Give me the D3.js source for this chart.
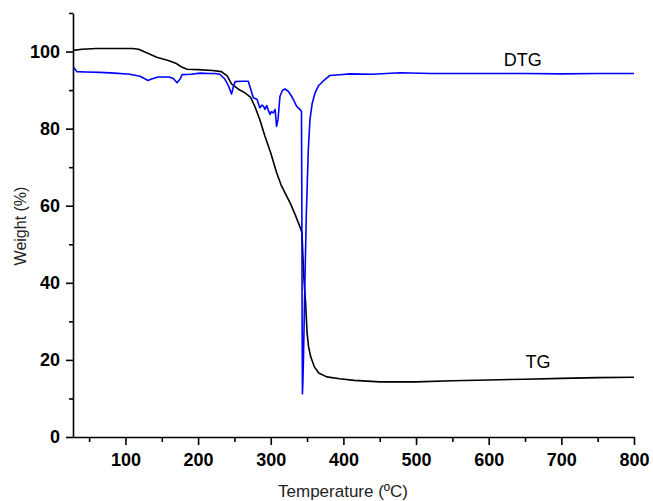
<!DOCTYPE html>
<html>
<head>
<meta charset="utf-8">
<script src="https://cdn.jsdelivr.net/npm/d3@7"></script>
<style>
  body { margin: 0; background: #fff; }
  svg { display: block; font-family: "Liberation Sans", Arial, sans-serif; }
  .tickLabels text { font-size: 18px; font-weight: bold; fill: #000; }
  .axisTitle { font-size: 17px; fill: #222; }
</style>
</head>
<body>
<div id="chart"></div>
<script>
var svgWidth = 653;
var svgHeight = 501;

var margin = { top: 13, right: 19, bottom: 64, left: 73 };
var width = svgWidth - margin.left - margin.right;
var height = svgHeight - margin.top - margin.bottom;

// TG curve (temperature, weight %)
var tgTemp = [28, 40, 60, 90, 110, 118, 130, 143, 160, 170, 178, 185, 200, 220, 232, 240, 246, 255, 265, 272,
  278, 285, 292, 300, 308, 314, 320, 327, 334, 340, 343, 344.5, 346, 348, 350, 352, 355, 360, 366, 377,
  395, 415, 450, 500, 550, 600, 650, 700, 750, 800];
var tgWeight = [100.3, 100.6, 100.8, 100.8, 100.8, 100.6, 99.6, 98.5, 97.6, 96.9, 95.9, 95.4, 95.3, 95.1, 94.8, 93.7, 91.6, 90.3, 89.2, 88.2,
  85.8, 82.3, 78.0, 73.7, 68.6, 65.5, 63.2, 60.6, 57.5, 54.6, 53.0, 46, 40, 34.7, 27, 23.5, 20.8, 18.2, 16.6, 15.6,
  15.1, 14.7, 14.3, 14.3, 14.6, 14.8, 15.0, 15.2, 15.4, 15.5];

// DTG curve (temperature, plotted value)
var dtgTemp = [28, 30, 33, 45, 65, 85, 106, 120, 128, 131, 136, 145, 160, 166, 171, 175, 178, 190, 203, 215,
  223, 230, 237, 242, 246, 249, 251, 260, 269, 272, 276, 281, 285, 288, 290, 292, 294.5, 297, 299, 301,
  303.5, 306, 308, 310, 312.7, 316, 319.6, 324, 328, 331, 335.7, 340, 342.3, 342.8, 343.2, 343.6, 344.2, 345, 347, 349,
  351.7, 354, 357, 361, 366, 372, 381.5, 395, 409, 440, 478, 520, 560, 600, 650, 700, 750, 800];
var dtgValue = [95.9, 95.6, 94.8, 94.7, 94.6, 94.4, 94.1, 93.6, 92.8, 92.5, 92.9, 93.4, 93.4, 93.0, 91.9, 92.8, 94.0, 94.1, 94.4, 94.3,
  94.3, 94.1, 92.8, 91.0, 89.0, 91.2, 92.2, 92.3, 92.3, 90.5, 88.0, 87.6, 85.4, 86.1, 85.8, 85.0, 86.0, 84.6, 83.7, 84.4,
  84.1, 85.0, 80.6, 82.4, 88.4, 89.9, 90.3, 89.7, 88.6, 87.6, 85.8, 85.0, 84.5, 60, 30, 11.2, 14, 20, 40, 58,
  74.6, 82.4, 86.5, 89.3, 91.2, 92.3, 93.8, 94.0, 94.2, 94.1, 94.5, 94.3, 94.3, 94.3, 94.3, 94.2, 94.3, 94.3];

var xMajor = [100, 200, 300, 400, 500, 600, 700, 800];
var xMinor = [50, 150, 250, 350, 450, 550, 650, 750];
var yMajor = [0, 20, 40, 60, 80, 100];
var yMinor = [10, 30, 50, 70, 90, 110];

var seriesLabels = [
  { text: "DTG", t: 647, v: 96.2 },
  { text: "TG", t: 668, v: 17.8 }
];

var svg = d3.select("#chart")
  .append("svg")
  .attr("width", svgWidth)
  .attr("height", svgHeight);

var chartGroup = svg.append("g")
  .attr("transform", `translate(${margin.left}, ${margin.top})`);

var xScale = d3.scaleLinear().domain([27.8, 800]).range([0, width]);
var yScale = d3.scaleLinear().domain([0, 110]).range([height, 0]);

// curves
var tgData = tgTemp.map((t, i) => [t, tgWeight[i]]);
var dtgData = dtgTemp.map((t, i) => [t, dtgValue[i]]);

var line = d3.line()
  .x(d => xScale(d[0]))
  .y(d => yScale(d[1]));

chartGroup.append("path")
  .datum(tgData)
  .attr("d", line)
  .attr("fill", "none")
  .attr("stroke", "#000")
  .attr("stroke-width", 1.6)
  .attr("stroke-linejoin", "round");

chartGroup.append("path")
  .datum(dtgData)
  .attr("d", line)
  .attr("fill", "none")
  .attr("stroke", "#0000ff")
  .attr("stroke-width", 1.6)
  .attr("stroke-linejoin", "round");

// axes: minor ticks first, then labelled major ticks
var xMinorAxis = chartGroup.append("g")
  .attr("transform", `translate(0, ${height})`)
  .call(d3.axisBottom(xScale).tickValues(xMinor).tickSize(5).tickSizeOuter(0).tickFormat(""));
var yMinorAxis = chartGroup.append("g")
  .call(d3.axisLeft(yScale).tickValues(yMinor).tickSize(4).tickSizeOuter(0).tickFormat(""));

var xAxis = chartGroup.append("g")
  .attr("class", "tickLabels")
  .attr("transform", `translate(0, ${height})`)
  .call(d3.axisBottom(xScale).tickValues(xMajor).tickSize(8).tickSizeOuter(0).tickPadding(8));
var yAxis = chartGroup.append("g")
  .attr("class", "tickLabels")
  .call(d3.axisLeft(yScale).tickValues(yMajor).tickSize(7).tickSizeOuter(0).tickPadding(6));

[xMinorAxis, yMinorAxis, xAxis, yAxis].forEach(function (g) {
  g.selectAll("path, line").attr("stroke", "#000").attr("stroke-width", 1.6);
  g.selectAll("text").attr("font-family", null).attr("font-size", null);
});
xMinorAxis.select(".domain").remove();
yMinorAxis.select(".domain").remove();

// series labels
chartGroup.selectAll(".seriesLabel")
  .data(seriesLabels)
  .enter()
  .append("text")
  .attr("class", "seriesLabel")
  .attr("x", d => xScale(d.t))
  .attr("y", d => yScale(d.v))
  .attr("text-anchor", "middle")
  .style("font-size", "18px")
  .style("fill", "#000")
  .text(d => d.text);

// axis titles
chartGroup.append("text")
  .attr("class", "axisTitle")
  .attr("transform", `translate(${-margin.left + 26}, 213) rotate(-90)`)
  .attr("text-anchor", "middle")
  .style("font-size", "16px")
  .text("Weight (%)");

chartGroup.append("text")
  .attr("class", "axisTitle")
  .attr("x", 343 - margin.left)
  .attr("y", height + 60)
  .attr("text-anchor", "middle")
  .text("Temperature (ºC)");
</script>
</body>
</html>
